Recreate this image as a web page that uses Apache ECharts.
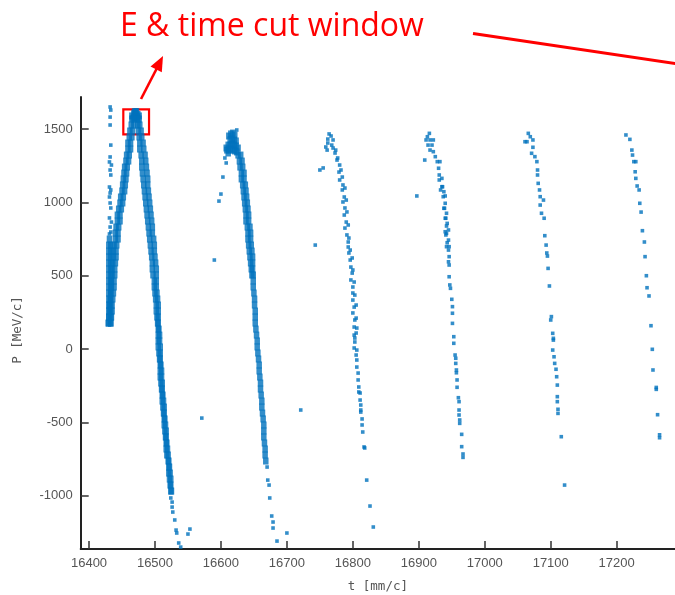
<!DOCTYPE html>
<html>
<head>
<meta charset="utf-8">
<script src="https://cdn.jsdelivr.net/npm/echarts@6.0.0/dist/echarts.min.js"></script>
<style>
html, body { margin: 0; padding: 0; background: #fff; overflow: hidden; }
#chart { width: 675px; height: 595px; }
</style>
</head>
<body>
<div id="chart"></div>
<script>
// Tick positions for both axes
const xTicks = [16400, 16500, 16600, 16700, 16800, 16900, 17000, 17100, 17200];
const yTicks = [-1000, -500, 0, 500, 1000, 1500];

// Bunch 1: dense rising edge, early vertical streak, falling edge and tail  [t, P]
const bunch1Rise = [
  [16429,177],[16433,177],[16430,218],[16434,218],[16431,259],[16435,259],[16431,300],[16435,300],
  [16432,341],[16436,341],[16433,382],[16437,382],[16434,423],[16438,423],[16434,464],[16438,464],
  [16435,505],[16439,505],[16435,546],[16439,546],[16436,587],[16440,587],[16437,628],[16441,628],
  [16437,668],[16441,668],[16438,709],[16442,709],[16440,750],[16444,750],[16440,791],[16444,791],
  [16441,832],[16445,832],[16443,873],[16447,873],[16443,914],[16447,914],[16445,955],[16449,955],
  [16447,996],[16451,996],[16448,1037],[16452,1037],[16450,1078],[16454,1078],[16451,1119],[16455,1119],
  [16452,1160],[16456,1160],[16453,1200],[16457,1200],[16454,1241],[16458,1241],[16456,1282],[16460,1282],
  [16457,1323],[16461,1323],[16459,1364],[16463,1364],[16459,1405],[16463,1405],[16461,1446],[16465,1446],
  [16462,1487],[16466,1487],[16464,1528],[16468,1528],[16465,1569],[16469,1569]
];
const bunch1Peak = [
  [16465,1590],[16468,1605],[16471,1612],[16474,1600],[16470,1585],[16467,1575],
  [16473,1580],[16476,1590],[16469,1617],[16472,1620],[16470,1619]
];
const bunch1Streak = [
  [16430,177],[16433,177],[16430,218],[16433,218],[16430,259],[16433,259],[16430,300],[16433,300],
  [16430,341],[16433,341],[16430,382],[16433,382],[16430,423],[16433,423],[16430,464],[16433,464],
  [16430,505],[16433,505],[16430,546],[16433,546],[16430,587],[16433,587],[16430,628],[16433,628],
  [16430,668],[16433,668],[16430,709],[16433,709],[16431,750]
];
const bunch1StreakTop = [
  [16432,1651],[16433,1630],[16432,1582],[16432,1528],[16433,1391],[16432,1310],[16431,1276],
  [16434,1255],[16432,1221],[16433,1187],[16431,1105],[16433,1085],[16432,1064],[16431,1037],
  [16432,996],[16433,962],[16431,894],[16434,866],[16432,832],[16433,798],[16431,785]
];
const bunch1Fall = [
  [16474,1569],[16476,1569],[16474,1528],[16477,1528],[16475,1487],[16479,1487],[16476,1446],[16480,1446],
  [16477,1405],[16482,1405],[16477,1364],[16483,1364],[16479,1323],[16485,1323],[16480,1282],[16486,1282],
  [16480,1241],[16487,1241],[16481,1200],[16488,1200],[16482,1160],[16489,1160],[16483,1119],[16489,1119],
  [16484,1078],[16490,1078],[16485,1037],[16491,1037],[16486,996],[16492,996],[16487,955],[16493,955],
  [16488,914],[16494,914],[16489,873],[16495,873],[16490,832],[16496,832],[16491,791],[16496,791],
  [16492,750],[16498,750],[16493,709],[16499,709],[16494,668],[16499,668],[16495,628],[16500,628],
  [16496,587],[16501,587],[16496,546],[16502,546],[16497,505],[16502,505],[16499,464],[16502,464],
  [16499,423],[16502,423],[16500,382],[16503,382],[16501,341],[16504,341],[16502,300],[16505,300],
  [16502,259],[16505,259],[16503,218],[16505,218],[16504,177],[16505,177],[16505,136],[16506,136],
  [16505,95],[16507,95],[16505,55],[16507,55],[16505,14],[16508,14],[16506,-27],[16508,-27],
  [16507,-68],[16508,-68],[16508,-109],[16509,-109],[16508,-150],[16510,-150],[16508,-191],[16510,-191],
  [16509,-232],[16511,-232],[16510,-273],[16511,-273],[16511,-314],[16512,-314],[16511,-355],[16513,-355],
  [16512,-396],[16514,-396],[16513,-437],[16514,-437],[16514,-477],[16515,-477],[16514,-518],[16516,-518],
  [16515,-559],[16517,-559],[16516,-600],[16517,-600],[16517,-641],[16518,-641],[16517,-682],[16519,-682],
  [16518,-723],[16520,-723],[16520,-764],[16521,-764],[16521,-805],[16522,-805],[16521,-846],[16523,-846],
  [16522,-887],[16524,-887],[16523,-928],[16524,-928],[16524,-969],[16525,-969]
];
const bunch1Tail = [
  [16524,-1016],[16526,-1044],[16526,-1078],[16527,-1112],[16530,-1166],[16532,-1235],[16533,-1255],
  [16536,-1323],[16539,-1351],[16550,-1262],[16553,-1228],[16571,-471]
];

// Bunch 2
const bunch2Peak = [
  [16612,1453],[16615,1467],[16618,1473],[16621,1460],[16614,1426],[16617,1432],[16620,1426],[16623,1419],
  [16611,1391],[16614,1391],[16617,1398],[16620,1391],[16623,1385],[16626,1371],[16609,1357],[16612,1357],
  [16615,1364],[16618,1357],[16621,1351],[16624,1344],[16611,1337],[16608,1371]
];
const bunch2Band = [
  [16626,1323],[16630,1323],[16628,1282],[16632,1282],[16629,1241],[16633,1241],[16631,1200],[16635,1200],
  [16631,1160],[16635,1160],[16633,1119],[16637,1119],[16634,1078],[16638,1078],[16635,1037],[16639,1037],
  [16636,996],[16640,996],[16637,955],[16641,955],[16638,914],[16642,914],[16638,873],[16642,873],
  [16640,832],[16644,832],[16641,791],[16645,791],[16641,750],[16645,750],[16642,709],[16646,709],
  [16643,668],[16647,668],[16644,628],[16648,628],[16645,587],[16648,587],[16646,546],[16648,546],
  [16647,505],[16649,505],[16649,464],[16649,423],[16650,382],[16651,341],[16651,300],[16652,259],
  [16652,218],[16652,177],[16653,136],[16654,95],[16655,55],[16655,14],[16656,-27],[16657,-68],
  [16658,-109],[16658,-150],[16659,-191],[16660,-232],[16660,-273],[16661,-314],[16662,-355],[16662,-396],
  [16663,-437],[16664,-477],[16665,-518],[16665,-559],[16665,-600],[16666,-641],[16667,-682],[16667,-723],
  [16668,-764]
];
const bunch2Sparse = [
  [16624,1494],[16606,1303],[16608,1269],[16603,1173],[16600,1057],[16597,1009],[16590,607],
  [16670,-805],[16671,-894],[16673,-928],[16674,-1016],[16677,-1139],[16679,-1180],[16679,-1221],
  [16685,-1310],[16700,-1255],[16721,-416]
];

// Bunch 3
const bunch3 = [
  [16764,1467],[16767,1453],[16762,1432],[16770,1426],[16762,1405],[16768,1391],[16759,1378],[16770,1371],
  [16761,1357],[16773,1337],[16776,1289],[16780,1255],[16779,1207],[16784,1173],[16785,1119],[16784,1085],
  [16787,1037],[16785,1003],[16788,962],[16787,914],[16790,866],[16788,825],[16791,778],[16793,730],
  [16793,696],[16794,655],[16796,607],[16797,559],[16799,518],[16797,471],[16800,423],[16800,382],
  [16800,334],[16802,286],[16800,246],[16803,198],[16802,150],[16805,109],[16802,95],[16803,48],
  [16802,7],[16805,-41],[16806,-75],[16806,-123],[16808,-164],[16808,-211],[16809,-259],[16811,-300],
  [16811,-348],[16812,-382],[16812,-430],[16814,-477],[16814,-518],[16815,-566],[16817,-668],[16818,-675],
  [16821,-894],[16826,-1071],[16831,-1214],
  [16774,1357],[16777,1303],[16782,1221],[16780,1153],[16788,1098],[16790,1016],[16791,935],[16793,846],
  [16794,757],[16796,675],[16799,621],[16800,539],[16802,457],[16803,368],[16805,300],[16805,211],
  [16806,143],[16803,75],[16806,-7],[16809,-293],[16812,-416],
  [16750,1221],[16755,1235],[16743,709]
];

// Bunch 4
const bunch4 = [
  [16916,1471],[16913,1448],[16911,1426],[16917,1426],[16922,1426],[16914,1391],[16920,1391],[16917,1357],
  [16922,1346],[16909,1289],[16925,1312],[16928,1278],[16930,1233],[16931,1187],[16931,1153],[16935,1107],
  [16933,1085],[16937,1039],[16940,994],[16939,960],[16942,926],[16941,892],[16943,857],[16945,812],
  [16942,789],[16945,743],[16946,698],
  [16932,1278],[16935,1164],[16936,1107],[16938,1073],[16940,1044],[16938,960],[16940,892],[16942,839],
  [16940,800],[16941,778],[16943,725],[16942,698],[16945,675],[16946,630],[16945,595],[16946,573],
  [16946,493],[16947,437],[16948,414],[16950,339],[16951,289],[16951,244],[16951,175],[16953,84],
  [16953,39],[16955,-41],[16956,-63],[16956,-98],[16957,-143],[16957,-162],[16958,-211],[16958,-261],
  [16960,-332],[16961,-359],[16961,-416],[16961,-450],[16962,-484],[16962,-507],[16965,-582],[16965,-666],
  [16967,-716],[16967,-739],
  [16897,1044]
];

// Bunch 5
const bunch5 = [
  [17066,1471],[17069,1448],[17073,1426],[17061,1414],[17064,1414],[17073,1376],[17071,1335],[17076,1312],
  [17079,1278],[17080,1221],[17080,1187],[17081,1130],[17083,1085],[17084,1039],[17089,1016],[17084,982],
  [17086,926],[17090,892],[17091,773],[17093,709],[17094,655],[17095,634],[17096,550],[17098,430],
  [17101,221],[17100,198],[17103,107],[17104,73],[17104,61],[17103,-7],[17105,-53],[17106,-98],
  [17108,-138],[17109,-189],[17110,-246],[17110,-325],[17110,-359],[17111,-411],[17111,-439],[17116,-598],
  [17121,-928]
];

// Bunch 6
const bunch6 = [
  [17214,1460],[17220,1430],[17223,1357],[17224,1323],[17226,1278],[17229,1278],[17228,1209],[17229,1164],
  [17231,1112],[17234,1085],[17235,994],[17237,934],[17239,807],[17242,730],[17243,630],[17245,500],
  [17246,418],[17249,362],[17252,159],[17254,-2],[17255,-143],[17260,-275],[17260,-262],[17262,-448],
  [17265,-605],[17265,-585]
];

// Cut window corners [t, P]
const cutWindow = [[16452, 1635], [16491, 1464]];

const BLUE = '#0072bd';
const RED = '#ff0000';

const denseData = [].concat(bunch1Rise, bunch1Peak, bunch1Streak, bunch1Fall, bunch2Peak, bunch2Band);
const sparseData = [].concat(bunch1StreakTop, bunch1Tail, bunch2Sparse, bunch3, bunch4, bunch5, bunch6);

const chart = echarts.init(document.getElementById('chart'), null, { renderer: 'canvas' });

const axisLabelStyle = {
  color: '#555',
  fontFamily: 'Liberation Sans',
  fontSize: 13,
  margin: 8,
  formatter: v => String(v)
};

chart.setOption({
  animation: false,
  backgroundColor: '#fff',
  grid: { left: 80.7, right: 0, top: 97, bottom: 46, outerBoundsMode: 'none' },
  xAxis: {
    type: 'value',
    min: 16387.4,
    max: 17288.4,
    name: 't [mm/c]',
    nameLocation: 'middle',
    nameGap: 31,
    nameTextStyle: { color: '#555', fontFamily: 'DejaVu Sans Mono', fontSize: 12.5 },
    axisLine: { onZero: false, lineStyle: { color: '#222', width: 2 } },
    axisTick: { inside: true, length: 8, lineStyle: { color: '#333', width: 1.5 }, customValues: xTicks },
    axisLabel: Object.assign({ customValues: xTicks }, axisLabelStyle),
    splitLine: { show: false }
  },
  yAxis: {
    type: 'value',
    min: -1364,
    max: 1719,
    name: 'P [MeV/c]',
    nameLocation: 'middle',
    nameGap: 56,
    nameTextStyle: { color: '#555', fontFamily: 'DejaVu Sans Mono', fontSize: 12.5, padding: [0, 14, 0, 0] },
    axisLine: { show: true, onZero: false, lineStyle: { color: '#222', width: 2 } },
    axisTick: { show: true, inside: true, length: 8, lineStyle: { color: '#333', width: 1.5 }, customValues: yTicks },
    axisLabel: Object.assign({ customValues: yTicks }, axisLabelStyle),
    splitLine: { show: false }
  },
  series: [
    {
      type: 'scatter',
      data: denseData,
      symbol: 'rect',
      symbolSize: [5.5, 7],
      itemStyle: { color: BLUE },
      silent: true
    },
    {
      type: 'scatter',
      data: sparseData,
      symbol: 'rect',
      symbolSize: 3.6,
      itemStyle: { color: BLUE },
      silent: true,
      markArea: {
        silent: true,
        itemStyle: { color: 'rgba(0,0,0,0)', borderColor: RED, borderWidth: 2.2 },
        data: [[{ coord: cutWindow[0] }, { coord: cutWindow[1] }]]
      }
    }
  ],
  graphic: [
    {
      type: 'text',
      left: 120,
      top: 11,
      style: { text: 'E & time cut window', fill: RED, font: '32px "Open Sans"' }
    },
    {
      type: 'line',
      shape: { x1: 141, y1: 99, x2: 157, y2: 68 },
      style: { stroke: RED, lineWidth: 2.6 }
    },
    {
      type: 'polygon',
      shape: { points: [[163, 56], [150.5, 66.5], [161.8, 72.2]] },
      style: { fill: RED }
    },
    {
      type: 'line',
      shape: { x1: 473, y1: 33.5, x2: 700, y2: 67.2 },
      style: { stroke: RED, lineWidth: 3 }
    }
  ]
});
</script>
</body>
</html>
